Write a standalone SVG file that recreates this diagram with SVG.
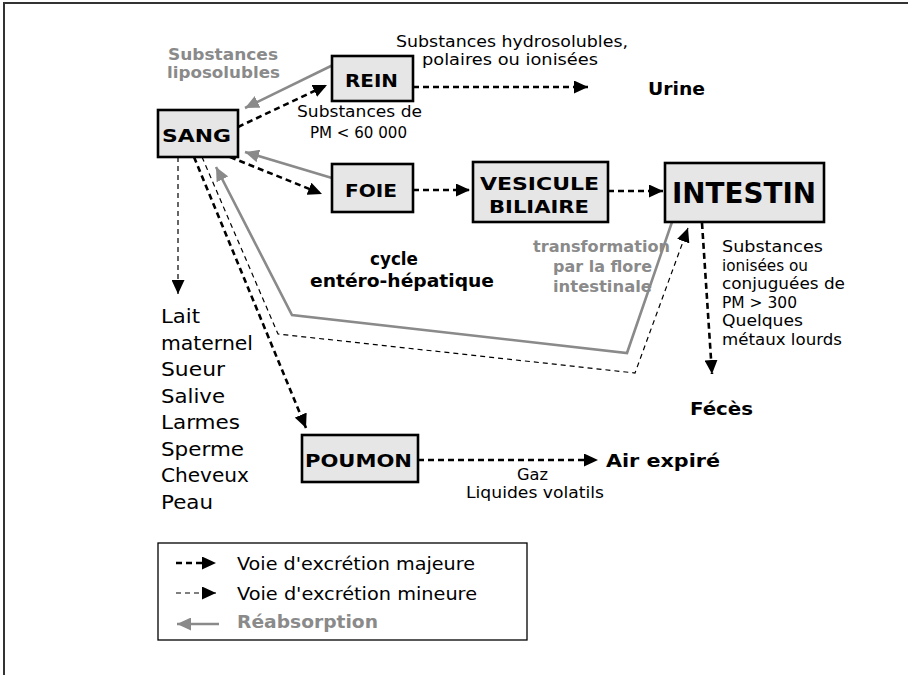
<svg xmlns="http://www.w3.org/2000/svg" width="908" height="675" viewBox="0 0 908 675">
<style>
.box{fill:#e6e6e6;stroke:#000;stroke-width:2.6}
.bl{font-family:"DejaVu Sans","Liberation Sans",sans-serif;font-weight:bold;fill:#000;text-anchor:middle}
.t{font-family:"DejaVu Sans","Liberation Sans",sans-serif;fill:#000}
.tb{font-family:"DejaVu Sans","Liberation Sans",sans-serif;font-weight:bold;fill:#000}
.g{font-family:"DejaVu Sans","Liberation Sans",sans-serif;font-weight:bold;fill:#8a8a8a}
.maj{fill:none;stroke:#000;stroke-width:2.6;stroke-dasharray:6 4;marker-end:url(#ah)}
.min{fill:none;stroke:#000;stroke-width:1.2;stroke-dasharray:5 4;marker-end:url(#ah)}
.re{fill:none;stroke:#8a8a8a;stroke-width:2.6;marker-end:url(#ag)}
</style>
<defs>
<marker id="ah" markerUnits="userSpaceOnUse" markerWidth="14" markerHeight="13" refX="14" refY="6.5" orient="auto"><path d="M0,0 L14,6.5 L0,13 z" fill="#000"/></marker>
<marker id="ag" markerUnits="userSpaceOnUse" markerWidth="14" markerHeight="13" refX="14" refY="6.5" orient="auto"><path d="M0,0 L14,6.5 L0,13 z" fill="#8a8a8a"/></marker>
</defs>
<rect width="908" height="675" fill="#fff"/>
<path d="M4,675 L4,3 L908,3" fill="none" stroke="#333" stroke-width="2"/>

<g id="connectors">
<path class="maj" d="M413,87 L588,87"/>
<path class="maj" d="M238,127 L327,85"/>
<path class="re" d="M333,65 L245,108"/>
<path class="maj" d="M230,157 L322,194"/>
<path class="re" d="M332,178 L245,152"/>
<path class="maj" d="M413,190 L470,190"/>
<path class="maj" d="M608,191 L663,191"/>
<path class="maj" d="M702,223 L712,374"/>
<path class="min" d="M178,157 L178,294"/>
<path class="maj" d="M194,157 L306,428"/>
<path class="min" d="M202,157 L278,334 L635,373 L688,228"/>
<path class="re" d="M672,222 L627,353 L292,315 L216,167"/>
<path class="maj" d="M418,460 L598,460"/>
</g>

<g id="sang"><rect class="box" x="158" y="110" width="80" height="47"/><text class="bl" x="196.5" y="141.5" font-size="18" textLength="69" lengthAdjust="spacingAndGlyphs">SANG</text></g>
<g id="rein"><rect class="box" x="332" y="56" width="81" height="45"/><text class="bl" x="371.5" y="86.5" font-size="18" textLength="53" lengthAdjust="spacingAndGlyphs">REIN</text></g>
<g id="foie"><rect class="box" x="332" y="164" width="81" height="48"/><text class="bl" x="371" y="196.5" font-size="18" textLength="52" lengthAdjust="spacingAndGlyphs">FOIE</text></g>
<g id="vesicule"><rect class="box" x="473" y="162" width="135" height="60"/><text class="bl" x="539.5" y="190" font-size="18" textLength="119" lengthAdjust="spacingAndGlyphs">VESICULE</text><text class="bl" x="539" y="213" font-size="18" textLength="100" lengthAdjust="spacingAndGlyphs">BILIAIRE</text></g>
<g id="intestin"><rect class="box" x="665" y="163" width="159" height="59"/><text class="bl" x="744" y="203" font-size="28" textLength="144" lengthAdjust="spacingAndGlyphs">INTESTIN</text></g>
<g id="poumon"><rect class="box" x="302" y="435" width="116" height="47"/><text class="bl" x="358.5" y="466.5" font-size="18" textLength="107" lengthAdjust="spacingAndGlyphs">POUMON</text></g>

<g id="labels">
<text class="g" x="223" y="60" font-size="16.5" text-anchor="middle" textLength="110" lengthAdjust="spacingAndGlyphs">Substances</text>
<text class="g" x="223.5" y="78" font-size="16.5" text-anchor="middle" textLength="113" lengthAdjust="spacingAndGlyphs">liposolubles</text>
<text class="t" x="512" y="47" font-size="16.5" text-anchor="middle" textLength="232" lengthAdjust="spacingAndGlyphs">Substances hydrosolubles,</text>
<text class="t" x="510" y="65" font-size="16.5" text-anchor="middle" textLength="176" lengthAdjust="spacingAndGlyphs">polaires ou ionisées</text>
<text class="tb" x="648" y="95" font-size="17" textLength="57" lengthAdjust="spacingAndGlyphs">Urine</text>
<text class="t" x="359.5" y="117" font-size="16.5" text-anchor="middle" textLength="125" lengthAdjust="spacingAndGlyphs">Substances de</text>
<text class="t" x="358.5" y="138" font-size="16.5" text-anchor="middle" textLength="97" lengthAdjust="spacingAndGlyphs">PM &lt; 60 000</text>
<text class="g" x="601.5" y="252" font-size="15" text-anchor="middle" textLength="137" lengthAdjust="spacingAndGlyphs">transformation</text>
<text class="g" x="602.5" y="272" font-size="15" text-anchor="middle" textLength="99" lengthAdjust="spacingAndGlyphs">par la flore</text>
<text class="g" x="602.5" y="292" font-size="15" text-anchor="middle" textLength="99" lengthAdjust="spacingAndGlyphs">intestinale</text>
<text class="tb" x="394" y="265" font-size="18" text-anchor="middle" textLength="48" lengthAdjust="spacingAndGlyphs">cycle</text>
<text class="tb" x="402" y="287" font-size="18" text-anchor="middle" textLength="184" lengthAdjust="spacingAndGlyphs">entéro-hépatique</text>
<text class="t" x="722" y="252" font-size="15.5" textLength="101" lengthAdjust="spacingAndGlyphs">Substances</text>
<text class="t" x="722" y="270.5" font-size="15.5" textLength="86" lengthAdjust="spacingAndGlyphs">ionisées ou</text>
<text class="t" x="722" y="289" font-size="15.5" textLength="123" lengthAdjust="spacingAndGlyphs">conjuguées de</text>
<text class="t" x="722" y="307.5" font-size="15.5" textLength="75" lengthAdjust="spacingAndGlyphs">PM &gt; 300</text>
<text class="t" x="722" y="326" font-size="15.5" textLength="81" lengthAdjust="spacingAndGlyphs">Quelques</text>
<text class="t" x="722" y="344.5" font-size="15.5" textLength="120" lengthAdjust="spacingAndGlyphs">métaux lourds</text>
<text class="tb" x="690" y="415" font-size="18" textLength="63" lengthAdjust="spacingAndGlyphs">Fécès</text>
<text class="tb" x="606" y="467" font-size="18" textLength="114" lengthAdjust="spacingAndGlyphs">Air expiré</text>
<text class="t" x="532.5" y="480" font-size="15" text-anchor="middle" textLength="31" lengthAdjust="spacingAndGlyphs">Gaz</text>
<text class="t" x="535" y="498" font-size="15" text-anchor="middle" textLength="138" lengthAdjust="spacingAndGlyphs">Liquides volatils</text>
<text class="t" x="161" y="323" font-size="20" textLength="39" lengthAdjust="spacingAndGlyphs">Lait</text>
<text class="t" x="161" y="349.5" font-size="20" textLength="92" lengthAdjust="spacingAndGlyphs">maternel</text>
<text class="t" x="161" y="376" font-size="20" textLength="64" lengthAdjust="spacingAndGlyphs">Sueur</text>
<text class="t" x="161" y="402.5" font-size="20" textLength="64" lengthAdjust="spacingAndGlyphs">Salive</text>
<text class="t" x="161" y="429" font-size="20" textLength="79" lengthAdjust="spacingAndGlyphs">Larmes</text>
<text class="t" x="161" y="455.5" font-size="20" textLength="83" lengthAdjust="spacingAndGlyphs">Sperme</text>
<text class="t" x="161" y="482" font-size="20" textLength="88" lengthAdjust="spacingAndGlyphs">Cheveux</text>
<text class="t" x="161" y="508.5" font-size="20" textLength="52" lengthAdjust="spacingAndGlyphs">Peau</text>
</g>

<g id="legend">
<rect x="158" y="543" width="369" height="97" fill="#fff" stroke="#000" stroke-width="1.3"/>
<path class="maj" d="M176,563 L216,563"/>
<path class="min" d="M176,593 L216,593"/>
<path class="re" d="M219,624 L177,624"/>
<text class="t" x="237" y="570" font-size="17.5" textLength="238" lengthAdjust="spacingAndGlyphs">Voie d'excrétion majeure</text>
<text class="t" x="237" y="600" font-size="17.5" textLength="240" lengthAdjust="spacingAndGlyphs">Voie d'excrétion mineure</text>
<text class="g" x="237" y="628" font-size="17" textLength="141" lengthAdjust="spacingAndGlyphs">Réabsorption</text>
</g>
</svg>
